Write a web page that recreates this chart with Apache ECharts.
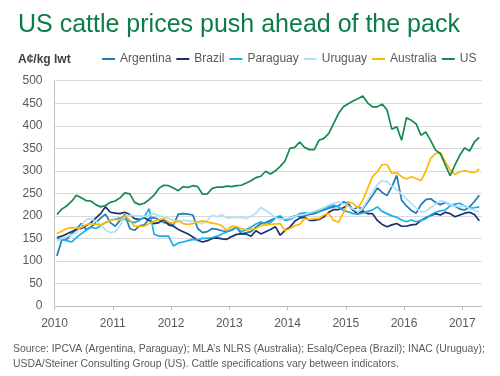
<!DOCTYPE html>
<html>
<head>
<meta charset="utf-8">
<script src="https://cdn.jsdelivr.net/npm/echarts@6/dist/echarts.min.js"></script>
<style>
html, body { margin: 0; background: #fff; }
#chart { width: 500px; height: 376px; }
</style>
</head>
<body>
<div id="chart"></div>
<script>
// monthly prices, Jan 2010 .. Apr 2017, A¢/kg lwt
var startYear = 2010;
var yearTicks = [2010, 2011, 2012, 2013, 2014, 2015, 2016, 2017];
var seriesNames = ['Argentina', 'Brazil', 'Paraguay', 'Uruguay', 'Australia', 'US'];

var argentina = [111,147,148,160,170,183,170,175,185,195,
    204,185,177,190,203,172,168,178,180,195,
    196,192,185,184,180,204,205,204,202,172,
    163,165,172,170,167,165,168,175,160,163,
    165,175,183,185,190,195,198,190,195,200,
    198,200,203,205,209,213,217,220,222,231,
    228,213,220,215,230,245,262,252,245,265,
    290,235,222,212,206,225,236,238,230,225,
    230,225,222,215,213,220,232,246];
var brazil = [152,155,160,165,170,172,178,185,195,205,
    220,208,206,205,208,203,194,192,196,190,
    183,185,192,180,177,170,165,160,153,146,
    142,145,150,151,149,148,154,159,160,160,
    155,167,160,165,170,176,157,168,175,188,
    195,197,190,190,192,198,208,214,214,218,
    224,213,204,211,205,205,190,181,176,180,
    183,177,177,180,181,190,196,201,205,202,
    208,205,198,202,206,208,203,189];
var paraguay = [150,148,145,142,152,160,168,175,172,178,
    185,190,193,195,192,188,185,190,198,216,
    160,155,155,155,133,140,142,145,148,147,
    150,150,152,155,160,165,170,175,165,170,
    175,182,187,180,185,195,200,190,192,198,
    205,207,205,208,210,216,220,224,220,212,
    209,205,204,206,210,213,220,210,205,200,
    197,191,187,191,187,190,194,202,208,211,
    213,222,226,228,222,217,218,220];
var uruguay = [143,150,154,158,162,178,191,194,188,180,
    169,163,165,178,200,201,200,200,199,202,
    205,200,198,194,190,187,190,189,188,185,
    183,190,202,198,203,195,196,197,196,194,
    199,206,219,212,205,196,192,194,195,199,
    202,203,207,210,214,218,224,228,231,226,
    222,215,209,218,235,252,270,278,276,266,
    258,248,238,228,217,209,210,218,226,234,
    231,225,222,220,224,216,212,209];
var australia = [161,166,172,174,173,174,180,183,181,180,
    185,190,192,191,200,191,177,177,177,183,
    188,191,194,186,183,189,183,181,183,187,
    189,186,184,182,178,168,177,176,172,169,
    170,172,178,181,181,182,183,167,172,178,
    181,194,192,194,194,202,205,190,186,206,
    231,228,217,235,261,287,298,314,314,294,
    296,287,282,287,283,278,300,328,338,341,
    320,302,292,298,300,298,296,304];
var us = [203,215,222,232,246,240,234,233,225,220,
    223,230,233,240,251,249,230,225,228,236,
    246,261,268,267,262,256,265,263,267,265,
    248,249,261,264,264,266,265,267,268,273,
    278,285,288,299,293,300,310,322,350,352,
    364,352,347,347,368,372,383,405,427,442,
    449,455,460,466,451,442,442,448,435,392,
    398,368,418,412,404,379,386,367,346,338,
    313,289,313,335,351,344,364,374];

var seriesValues = [argentina, brazil, paraguay, uruguay, australia, us];
var colors = ['#1E7DB5', '#1C2E6E', '#19AEEA', '#B3E0F5', '#FFB800', '#138A4E'];

// each month sits in the middle of its month on the year axis
function toPoints(values) {
    return values.map(function (v, i) {
        return [startYear + (i + 0.5) / 12, v];
    });
}

var chart = echarts.init(document.getElementById('chart'));

var option = {
    animation: false,
    color: colors,
    title: {
        text: 'US cattle prices push ahead of the pack',
        left: 13,
        top: 8,
        textStyle: {
            fontFamily: 'Liberation Sans',
            fontSize: 25,
            fontWeight: 'normal',
            color: '#0C7D47'
        }
    },
    graphic: [{
        type: 'text',
        left: 18,
        top: 54,
        style: {
            text: 'A¢/kg lwt',
            font: 'bold 12px "Liberation Sans"',
            fill: '#404040'
        }
    }, {
        type: 'text',
        left: 13,
        top: 342,
        style: {
            text: 'Source: IPCVA (Argentina, Paraguay); MLA\u2019s NLRS (Australia); Esalq/Cepea (Brazil); INAC (Uruguay);\nUSDA/Steiner Consulting Group (US). Cattle specifications vary between indicators.',
            font: '10.4px "Liberation Sans"',
            lineHeight: 15,
            fill: '#595959'
        }
    }],
    legend: {
        data: seriesNames,
        left: 102,
        top: 53,
        padding: 0,
        icon: 'rect',
        itemWidth: 13,
        itemHeight: 2,
        itemGap: 5,
        textStyle: {
            fontFamily: 'Liberation Sans',
            fontSize: 12,
            color: '#595959'
        }
    },
    grid: {
        left: 54.5,
        right: 18.3,
        top: 80.7,
        bottom: 70
    },
    xAxis: {
        type: 'value',
        min: 2010,
        max: 2017 + 4 / 12,
        interval: 1,
        axisLine: { lineStyle: { color: '#BFBFBF' } },
        axisTick: { show: true, length: 4, lineStyle: { color: '#BFBFBF' } },
        splitLine: { show: false },
        axisLabel: {
            showMaxLabel: false,
            margin: 12,
            fontFamily: 'Liberation Sans',
            fontSize: 12,
            color: '#595959',
            formatter: function (v) {
                return yearTicks.indexOf(v) >= 0 ? String(v) : '';
            }
        }
    },
    yAxis: {
        type: 'value',
        min: 0,
        max: 500,
        interval: 50,
        axisLine: { show: true, lineStyle: { color: '#BFBFBF' } },
        axisTick: { show: false },
        splitLine: { lineStyle: { color: '#D9D9D9' } },
        axisLabel: {
            margin: 12,
            fontFamily: 'Liberation Sans',
            fontSize: 12,
            color: '#595959'
        }
    },
    series: seriesNames.map(function (name, k) {
        return {
            name: name,
            type: 'line',
            symbol: 'none',
            lineStyle: { width: 1.7 },
            data: toPoints(seriesValues[k])
        };
    })
};

chart.setOption(option);
</script>
</body>
</html>
